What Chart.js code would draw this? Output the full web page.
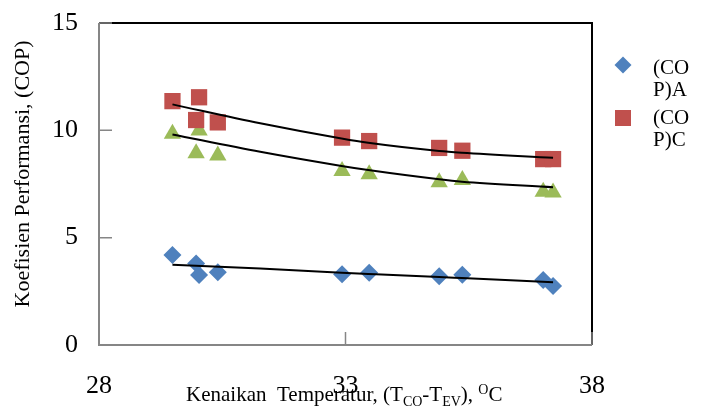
<!DOCTYPE html>
<html>
<head>
<meta charset="utf-8">
<script src="https://cdn.jsdelivr.net/npm/chart.js@4"></script>
<style>
  body { margin: 0; background: #fff; }
</style>
</head>
<body>
<canvas id="copChart" width="708" height="407"></canvas>
<script>
// data
const xVals = [29.49, 29.97, 30.03, 30.41, 32.93, 33.48, 34.90, 35.37, 37.01, 37.21];
const copA = [4.19, 3.80, 3.26, 3.39, 3.29, 3.37, 3.20, 3.27, 3.03, 2.75];
const copC = [11.36, 10.48, 11.54, 10.37, 9.66, 9.50, 9.18, 9.05, 8.66, 8.66];
const copB = [9.84, 8.93, 9.99, 8.83, 8.11, 7.96, 7.58, 7.69, 7.14, 7.10];

// trend lines
const trendX = [29.49, 31.27, 32.92, 33.46, 34.90, 35.36, 37.21];
const trendA = [3.74, 3.56, 3.36, 3.31, 3.17, 3.12, 2.92];
const trendC = [11.21, 10.33, 9.62, 9.42, 9.04, 8.96, 8.72];
const trendB = [9.81, 9.00, 8.34, 8.15, 7.72, 7.61, 7.35];

const xTicks = [28, 33, 38];
const yTicks = [0, 5, 10, 15];

const BLUE = '#4F81BD';
const RED = '#C0504D';
const GREEN = '#9BBB59';
const SERIF = '"Liberation Serif", "Times New Roman", serif';

function pts(xs, ys) {
  return xs.map((x, i) => ({ x: x, y: ys[i] }));
}

function trend(ys) {
  return {
    type: 'line',
    data: pts(trendX, ys),
    borderColor: '#000',
    borderWidth: 2,
    pointRadius: 0,
    fill: false,
    cubicInterpolationMode: 'monotone',
    order: 0
  };
}

// frame, inside ticks, titles and legend
const decor = {
  id: 'decor',
  afterDraw(chart) {
    const ctx = chart.ctx;
    const a = chart.chartArea;
    const xs = chart.scales.x, ys = chart.scales.y;
    ctx.save();

    // black plot border (top / right)
    ctx.strokeStyle = '#000';
    ctx.lineWidth = 2;
    ctx.beginPath();
    ctx.moveTo(a.left, a.top);
    ctx.lineTo(a.right, a.top);
    ctx.lineTo(a.right, a.bottom);
    ctx.stroke();

    // gray axes with inward ticks
    ctx.strokeStyle = '#868686';
    ctx.lineWidth = 2;
    ctx.beginPath();
    ctx.moveTo(a.left, a.top);
    ctx.lineTo(a.left, a.bottom);
    ctx.lineTo(a.right, a.bottom);
    ctx.stroke();
    ctx.lineWidth = 1.5;
    ctx.beginPath();
    yTicks.forEach(v => {
      const y = ys.getPixelForValue(v);
      ctx.moveTo(a.left, y);
      ctx.lineTo(a.left + 13, y);
    });
    xTicks.forEach(v => {
      const x = xs.getPixelForValue(v);
      ctx.moveTo(x, a.bottom);
      ctx.lineTo(x, a.bottom - 13);
    });
    ctx.stroke();

    // y title
    ctx.fillStyle = '#000';
    ctx.font = '22px ' + SERIF;
    ctx.textAlign = 'center';
    ctx.textBaseline = 'middle';
    ctx.save();
    ctx.translate(23, 174);
    ctx.rotate(-Math.PI / 2);
    ctx.fillText('Koefisien Performansi, (COP)', 0, 0);
    ctx.restore();

    // x title with sub/superscripts
    ctx.textAlign = 'left';
    ctx.textBaseline = 'alphabetic';
    const parts = [
      ['Kenaikan  Temperatur, (T', 0],
      ['CO', 1],
      ['-T', 0],
      ['EV', 1],
      ['), ', 0],
      ['O', -1],
      ['C', 0]
    ];
    let px = 186;
    const base = 401;
    parts.forEach(p => {
      ctx.font = (p[1] === 0 ? '21px ' : '14px ') + SERIF;
      const dy = p[1] === 1 ? 5 : (p[1] === -1 ? -7 : 0);
      ctx.fillText(p[0], px, base + dy);
      px += ctx.measureText(p[0]).width;
    });

    // legend
    ctx.fillStyle = BLUE;
    ctx.beginPath();
    ctx.moveTo(623 - 8.5, 65);
    ctx.lineTo(623, 65 - 8.5);
    ctx.lineTo(623 + 8.5, 65);
    ctx.lineTo(623, 65 + 8.5);
    ctx.closePath();
    ctx.fill();
    ctx.fillStyle = RED;
    ctx.fillRect(623 - 8, 118 - 8, 16, 16);

    ctx.fillStyle = '#000';
    ctx.font = '21px ' + SERIF;
    ctx.textBaseline = 'middle';
    ctx.fillText('(CO', 653, 68);
    ctx.fillText('P)A', 653, 90);
    ctx.fillText('(CO', 653, 118);
    ctx.fillText('P)C', 653, 140);
    ctx.restore();
  }
};

new Chart(document.getElementById('copChart'), {
  type: 'scatter',
  data: {
    datasets: [
      trend(trendA),
      trend(trendC),
      trend(trendB),
      {
        label: '(COP)A',
        data: pts(xVals, copA),
        pointStyle: 'rectRot',
        pointRadius: 9,
        backgroundColor: BLUE,
        borderColor: BLUE,
        borderWidth: 0,
        order: 1
      },
      {
        label: '(COP)C',
        data: pts(xVals, copC),
        pointStyle: 'rect',
        pointRadius: 11.5,
        backgroundColor: RED,
        borderColor: RED,
        borderWidth: 0,
        order: 1
      },
      {
        label: '(COP)B',
        data: pts(xVals, copB),
        pointStyle: 'triangle',
        pointRadius: 10,
        backgroundColor: GREEN,
        borderColor: GREEN,
        borderWidth: 0,
        order: 1
      }
    ]
  },
  options: {
    responsive: false,
    animation: false,
    layout: { padding: { top: 23, right: 116, left: 0, bottom: 0 } },
    plugins: {
      legend: { display: false },
      tooltip: { enabled: false }
    },
    scales: {
      x: {
        type: 'linear',
        min: 28,
        max: 38,
        afterBuildTicks: s => { s.ticks = xTicks.map(v => ({ value: v })); },
        afterFit: s => { s.height = 62; s.paddingLeft = 0; s.paddingRight = 0; },
        grid: { display: false, drawTicks: false },
        border: { display: false },
        ticks: {
          padding: 26,
          color: '#000',
          font: { family: SERIF, size: 26 }
        }
      },
      y: {
        min: 0,
        max: 15,
        afterBuildTicks: s => { s.ticks = yTicks.map(v => ({ value: v })); },
        afterFit: s => { s.width = 99; s.paddingTop = 0; s.paddingBottom = 0; },
        grid: { display: false, drawTicks: false },
        border: { display: false },
        ticks: {
          padding: 21,
          color: '#000',
          font: { family: SERIF, size: 26 }
        }
      }
    }
  },
  plugins: [decor]
});
</script>
</body>
</html>
